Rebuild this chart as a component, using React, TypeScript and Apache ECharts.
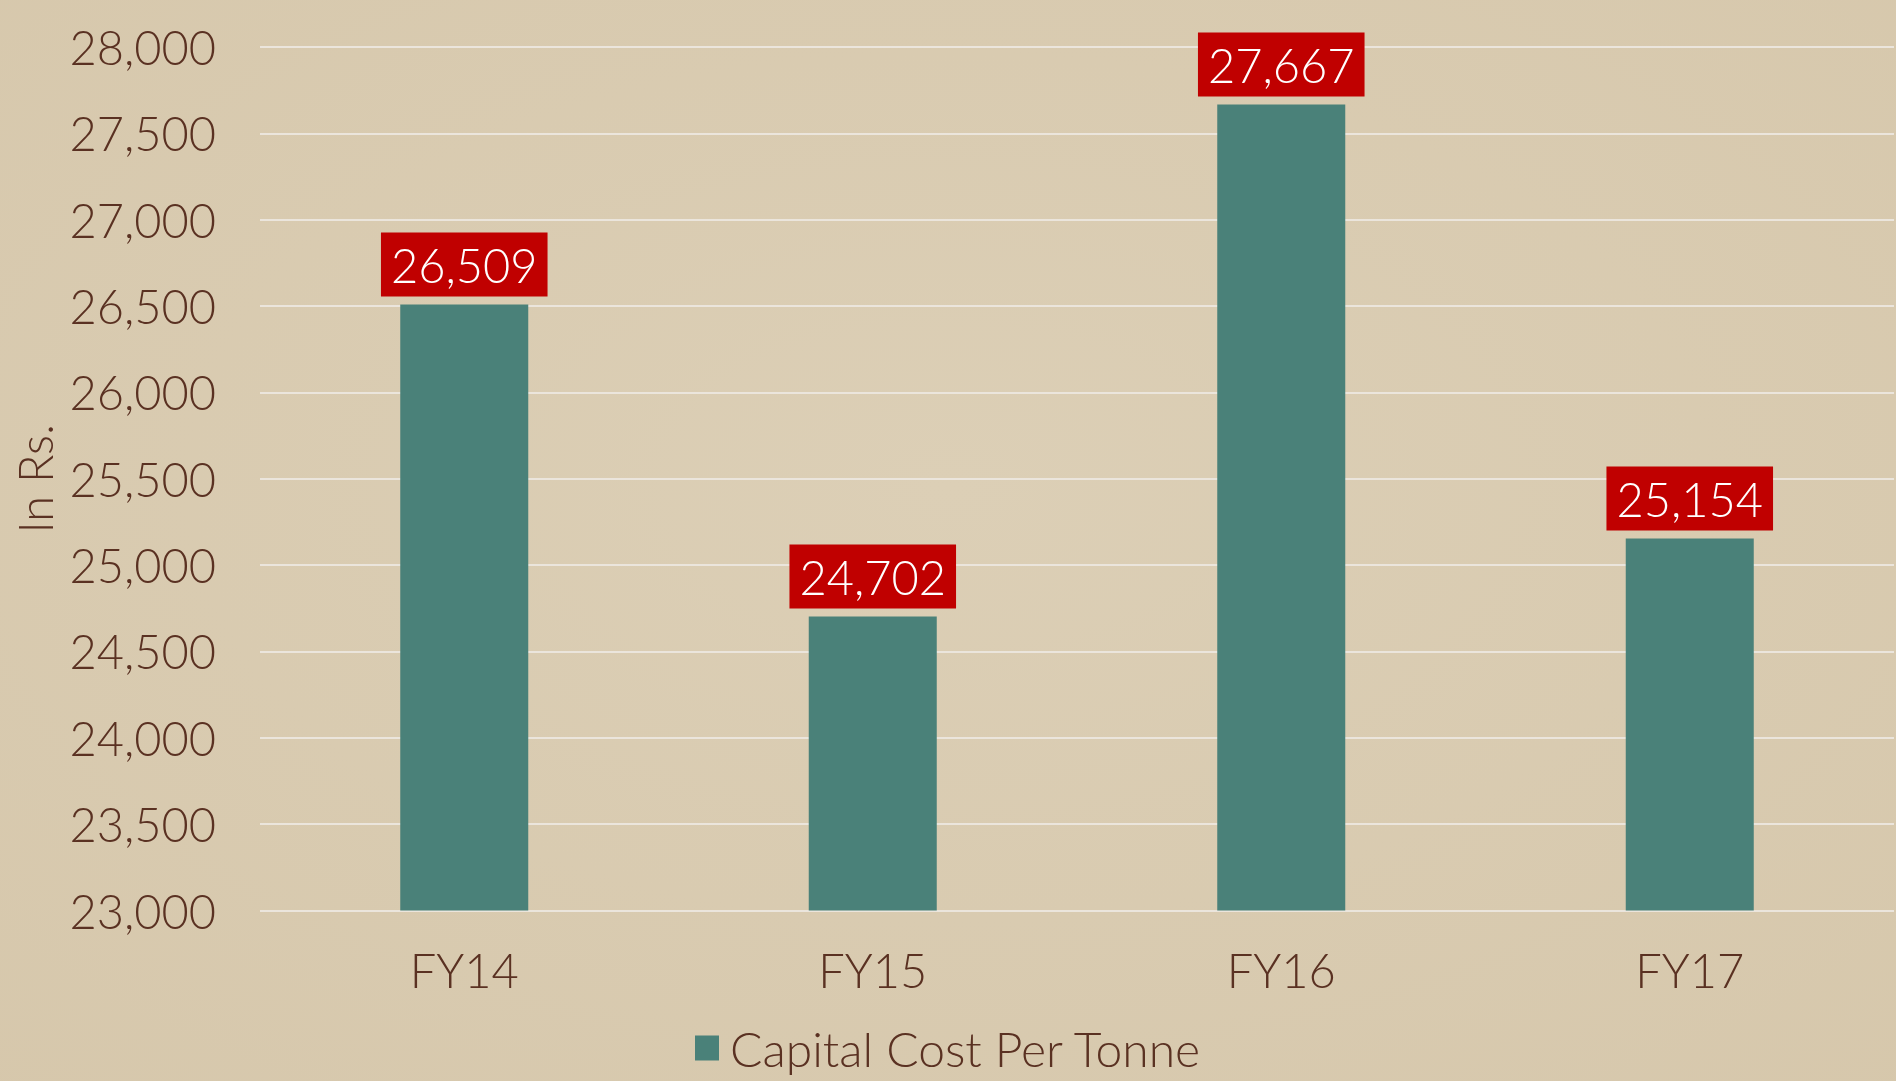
import React, { useEffect, useRef } from "react";
import * as echarts from "echarts";

const categories = ["FY14", "FY15", "FY16", "FY17"];
const capitalCost = [26509, 24702, 27667, 25154];
const seriesName = "Capital Cost Per Tonne";
const yAxisName = "In Rs.";

const FONT = "Lato, 'Open Sans', 'Liberation Sans', sans-serif";
const TEXT_COLOR = "#5a3122";

export default function App() {
  const ref = useRef<HTMLDivElement>(null);
  useEffect(() => {
    if (!ref.current) return;
    const chart = echarts.init(ref.current, undefined, { renderer: "svg" });
    chart.setOption({
      animation: false,
      backgroundColor: {
        type: "radial",
        x: 0.5,
        y: 0.45,
        r: 0.8,
        colorStops: [
          { offset: 0, color: "#dccfb6" },
          { offset: 1, color: "#d6c7ab" },
        ],
      },
      textStyle: { fontFamily: FONT, fontWeight: 300 },
      grid: { left: 260, right: 2, top: 47, bottom: 170.5, containLabel: false },
      legend: {
        data: [seriesName],
        left: 690,
        top: 1019,
        icon: "rect",
        itemWidth: 24,
        itemHeight: 25,
        itemGap: 10,
        textStyle: {
          fontFamily: FONT,
          fontWeight: 300,
          fontSize: 48,
          color: TEXT_COLOR,
          padding: [0, 0, 0, 6],
        },
      },
      xAxis: {
        type: "category",
        data: categories,
        axisLine: { show: false },
        axisTick: { show: false },
        axisLabel: {
          margin: 36,
          fontFamily: FONT,
          fontWeight: 300,
          fontSize: 47,
          color: TEXT_COLOR,
        },
      },
      yAxis: {
        type: "value",
        min: 23000,
        max: 28000,
        interval: 500,
        name: yAxisName,
        nameLocation: "middle",
        nameRotate: 90,
        nameGap: 200,
        nameTextStyle: {
          fontFamily: FONT,
          fontWeight: 300,
          fontSize: 47,
          color: TEXT_COLOR,
        },
        axisLine: { show: false },
        axisTick: { show: false },
        axisLabel: {
          margin: 44,
          fontFamily: FONT,
          fontWeight: 300,
          fontSize: 47,
          color: TEXT_COLOR,
          formatter: (v: number) => v.toLocaleString("en-US"),
        },
        splitLine: { lineStyle: { color: "#ebe5dc", width: 2 } },
      },
      series: [
        {
          name: seriesName,
          type: "bar",
          data: capitalCost,
          barWidth: 128,
          itemStyle: { color: "#4a8179" },
          label: {
            show: true,
            position: "top",
            distance: 8,
            backgroundColor: "#c00000",
            padding: [9, 10, 8, 10],
            color: "#ffffff",
            fontFamily: FONT,
            fontWeight: 300,
            fontSize: 47,
            lineHeight: 47,
            formatter: (p: any) => Number(p.value).toLocaleString("en-US"),
          },
        },
      ],
    });
    return () => chart.dispose();
  }, []);
  return (
    <div
      ref={ref}
      style={{ position: "fixed", left: 0, top: 0, width: 1896, height: 1081 }}
    />
  );
}
